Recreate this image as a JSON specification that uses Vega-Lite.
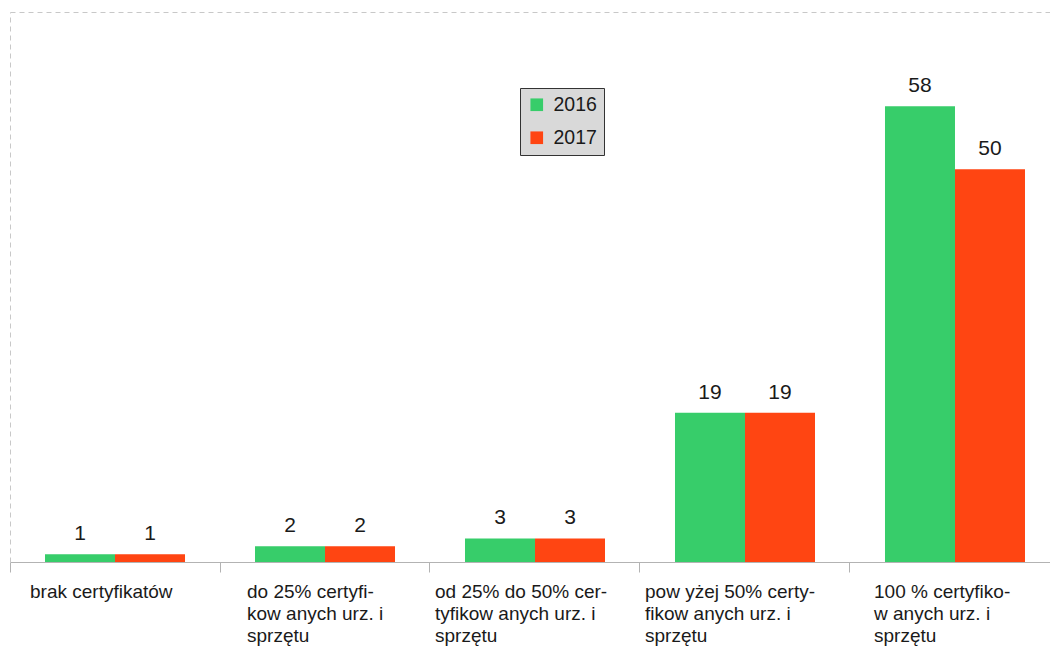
{
  "$schema": "https://vega.github.io/schema/vega-lite/v6.json",
  "width": 1040,
  "height": 550,
  "autosize": {"type": "none"},
  "padding": {"left": 10, "top": 12, "right": 0, "bottom": 86},
  "background": "white",
  "config": {
    "view": {"stroke": null},
    "font": "Liberation Sans"
  },
  "data": {
    "values": [
      {"kategoria": "brak certyfikatów", "rok": "2016", "liczba": 1},
      {"kategoria": "brak certyfikatów", "rok": "2017", "liczba": 1},
      {"kategoria": "do 25% certyfi-|kow anych urz. i|sprzętu", "rok": "2016", "liczba": 2},
      {"kategoria": "do 25% certyfi-|kow anych urz. i|sprzętu", "rok": "2017", "liczba": 2},
      {"kategoria": "od 25% do 50% cer-|tyfikow anych urz. i|sprzętu", "rok": "2016", "liczba": 3},
      {"kategoria": "od 25% do 50% cer-|tyfikow anych urz. i|sprzętu", "rok": "2017", "liczba": 3},
      {"kategoria": "pow yżej 50% certy-|fikow anych  urz. i|sprzętu", "rok": "2016", "liczba": 19},
      {"kategoria": "pow yżej 50% certy-|fikow anych  urz. i|sprzętu", "rok": "2017", "liczba": 19},
      {"kategoria": "100 % certyfiko-|w anych  urz. i|sprzętu", "rok": "2016", "liczba": 58},
      {"kategoria": "100 % certyfiko-|w anych  urz. i|sprzętu", "rok": "2017", "liczba": 50}
    ]
  },
  "encoding": {
    "x": {
      "field": "kategoria",
      "type": "nominal",
      "sort": null,
      "title": null,
      "scale": {"paddingInner": 0.3333, "paddingOuter": 0.1667, "rangeMax": 1050},
      "axis": {
        "bandPosition": -0.25,
        "labelAngle": 0,
        "labelAlign": "left",
        "labelBaseline": "top",
        "labelExpr": "split(datum.label, '|')",
        "labelOffset": {"expr": "substring(datum.value,0,2) == 'br' ? -85 : substring(datum.value,0,2) == 'do' ? -78 : substring(datum.value,0,2) == '10' ? -81 : -100"},
        "labelFontSize": 19,
        "labelLineHeight": 22,
        "labelColor": "#1a1a1a",
        "labelPadding": 10,
        "labelLimit": 0,
        "domainColor": "#b3b3b3",
        "tickColor": "#b3b3b3",
        "tickSize": 10,
        "grid": false
      }
    },
    "y": {
      "field": "liczba",
      "type": "quantitative",
      "title": null,
      "scale": {"domain": [0, 70], "nice": false},
      "axis": {
        "values": [70],
        "labels": false,
        "ticks": false,
        "domainColor": "#c8c8c8",
        "domainDash": [5, 4],
        "grid": true,
        "gridColor": "#c8c8c8",
        "gridDash": [5, 4]
      }
    },
    "xOffset": {"field": "rok", "type": "nominal", "scale": {"domain": ["2016", "2017"], "paddingInner": 0, "paddingOuter": 0}}
  },
  "layer": [
    {
      "mark": {"type": "bar"},
      "encoding": {
        "color": {
          "field": "rok",
          "type": "nominal",
          "scale": {"domain": ["2016", "2017"], "range": ["#37cd6a", "#ff4512"]},
          "legend": {
            "title": null,
            "orient": "none",
            "legendX": 510,
            "legendY": 76,
            "fillColor": "#d9d9d9",
            "strokeColor": "#333333",
            "padding": 7,
            "symbolType": "square",
            "symbolSize": 160,
            "symbolStrokeWidth": 0,
            "labelFontSize": 19.5,
            "labelColor": "#1a1a1a",
            "rowPadding": 12,
            "labelOffset": 7
          }
        }
      }
    },
    {
      "mark": {"type": "text", "baseline": "bottom", "dy": -10, "fontSize": 21, "color": "#1a1a1a"},
      "encoding": {
        "text": {"field": "liczba", "type": "quantitative"}
      }
    }
  ]
}
